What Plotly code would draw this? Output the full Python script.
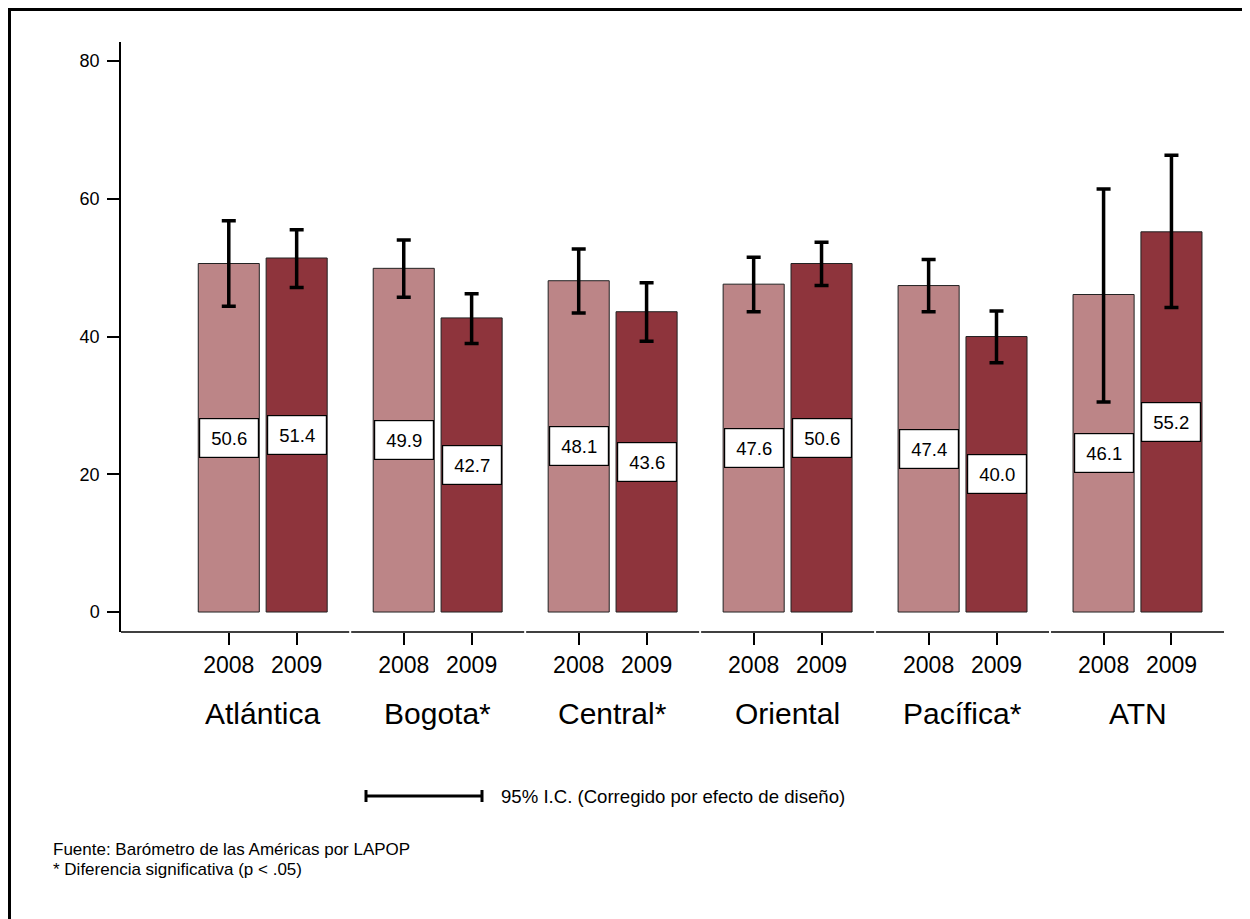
import plotly.graph_objects as go

# ---- data ----
regions = ["Atlántica", "Bogota", "Central", "Oriental", "Pacífica", "ATN"]
significant = [False, True, True, False, True, False]
years = ["2008", "2009"]
v2008 = [50.6, 49.9, 48.1, 47.6, 47.4, 46.1]
v2009 = [51.4, 42.7, 43.6, 50.6, 40.0, 55.2]
lo2008 = [44.4, 45.7, 43.4, 43.6, 43.6, 30.5]
hi2008 = [56.8, 54.0, 52.7, 51.5, 51.2, 61.4]
lo2009 = [47.1, 39.0, 39.3, 47.4, 36.2, 44.2]
hi2009 = [55.5, 46.2, 47.8, 53.7, 43.7, 66.3]
y_ticks = [0, 20, 40, 60, 80]
legend_text = "95% I.C. (Corregido por efecto de diseño)"
notes = ["Fuente: Barómetro de las Américas por LAPOP",
         "* Diferencia significativa (p < .05)"]

# ---- layout constants (page has an 8px body margin) ----
OFFS = 8
W, H = 1250 - OFFS, 919 - OFFS
ML, MR, MT, MB = 121 - OFFS, 25, 42 - OFFS, 287
PW, PH = W - ML - MR, H - MT - MB
FONT = "Arial, Liberation Sans, Helvetica, sans-serif"
C08, C09 = "#BC8587", "#8E343C"
OFF = 0.194
BW = 0.349
XMIN, XMAX = -0.81, 5.5
YMIN, YMAX = -2.9, 82.76


def pxx(p):
    # reference screen x -> paper x
    return (p - OFFS - ML) / PW


def pxy(p):
    # reference screen y -> paper y
    return (H - MB - (p - OFFS)) / PH


fig = go.Figure()
series = [(years[0], v2008, lo2008, hi2008, C08, -OFF),
          (years[1], v2009, lo2009, hi2009, C09, OFF)]
for name, vals, lo, hi, col, off in series:
    xs = [i + off for i in range(len(regions))]
    fig.add_trace(go.Bar(
        x=xs, y=vals, width=BW, name=name,
        marker=dict(color=col, line=dict(color="#222222", width=1)),
        error_y=dict(type="data", symmetric=False,
                     array=[h - v for h, v in zip(hi, vals)],
                     arrayminus=[v - l for v, l in zip(vals, lo)],
                     color="black", thickness=3.5, width=7),
        showlegend=False, hoverinfo="skip"))
    for x, v in zip(xs, vals):
        fig.add_annotation(x=x, y=v / 2, xref="x", yref="y", text=f"{v:.1f}",
                           showarrow=False, bgcolor="white", bordercolor="black",
                           borderwidth=1.2, borderpad=1, width=56, height=36,
                           font=dict(family=FONT, size=18.5, color="black"))

# region labels
for i, (r, s) in enumerate(zip(regions, significant)):
    txt = r + ("*" if s else "")
    fig.add_annotation(x=i, y=pxy(713), xref="x", yref="paper", text=txt,
                       showarrow=False, yanchor="middle",
                       font=dict(family=FONT, size=30, color="black"))

shapes = []
# segmented x-axis line
eps = 1.0 / 175
bounds = [XMIN] + [i + 0.5 for i in range(len(regions))]
for a, b in zip(bounds[:-1], bounds[1:]):
    shapes.append(dict(type="line", xref="x", yref="paper",
                       x0=a + (eps if a != XMIN else 0), x1=b - eps, y0=0, y1=0,
                       line=dict(color="black", width=1.5)))
# legend symbol
ly = pxy(796)
shapes.append(dict(type="line", xref="paper", yref="paper", x0=pxx(366), x1=pxx(482),
                   y0=ly, y1=ly, line=dict(color="black", width=3)))
for px in (366, 482):
    shapes.append(dict(type="line", xref="paper", yref="paper", x0=pxx(px), x1=pxx(px),
                       y0=pxy(790), y1=pxy(802), line=dict(color="black", width=3)))
# outer frame (top and left)
shapes.append(dict(type="line", xref="paper", yref="paper", x0=pxx(7), x1=pxx(1260),
                   y0=pxy(9), y1=pxy(9), line=dict(color="black", width=4)))
shapes.append(dict(type="line", xref="paper", yref="paper", x0=pxx(9), x1=pxx(9),
                   y0=pxy(7), y1=pxy(930), line=dict(color="black", width=4)))

fig.add_annotation(x=pxx(499), y=ly, xref="paper", yref="paper", text=legend_text,
                   showarrow=False, xanchor="left", yanchor="middle",
                   font=dict(family=FONT, size=18.6, color="black"))
for k, t in enumerate(notes):
    fig.add_annotation(x=pxx(51), y=pxy(849.5 + 20 * k), xref="paper", yref="paper",
                       text=t, showarrow=False, xanchor="left", yanchor="middle",
                       font=dict(family=FONT, size=17, color="black"))

tickx = [i + o for i in range(len(regions)) for o in (-OFF, OFF)]
tickt = [y for _ in regions for y in years]

fig.update_layout(
    width=W, height=H,
    margin=dict(l=ML, r=MR, t=MT, b=MB, pad=0),
    paper_bgcolor="white", plot_bgcolor="white",
    barmode="overlay", shapes=shapes,
    font=dict(family=FONT, color="black"),
    xaxis=dict(range=[XMIN, XMAX], tickvals=tickx, ticktext=tickt,
               ticks="outside", ticklen=12, tickwidth=1.5, tickcolor="black",
               showline=False, showgrid=False, zeroline=False,
               tickfont=dict(family=FONT, size=23, color="black")),
    yaxis=dict(range=[YMIN, YMAX], tickvals=y_ticks,
               ticks="outside", ticklen=12, tickwidth=1.5, tickcolor="black",
               showline=True, linecolor="black", linewidth=1.5,
               showgrid=False, zeroline=False, ticklabelstandoff=4,
               tickfont=dict(family=FONT, size=18, color="black")),
)

fig.write_html("out.html")
